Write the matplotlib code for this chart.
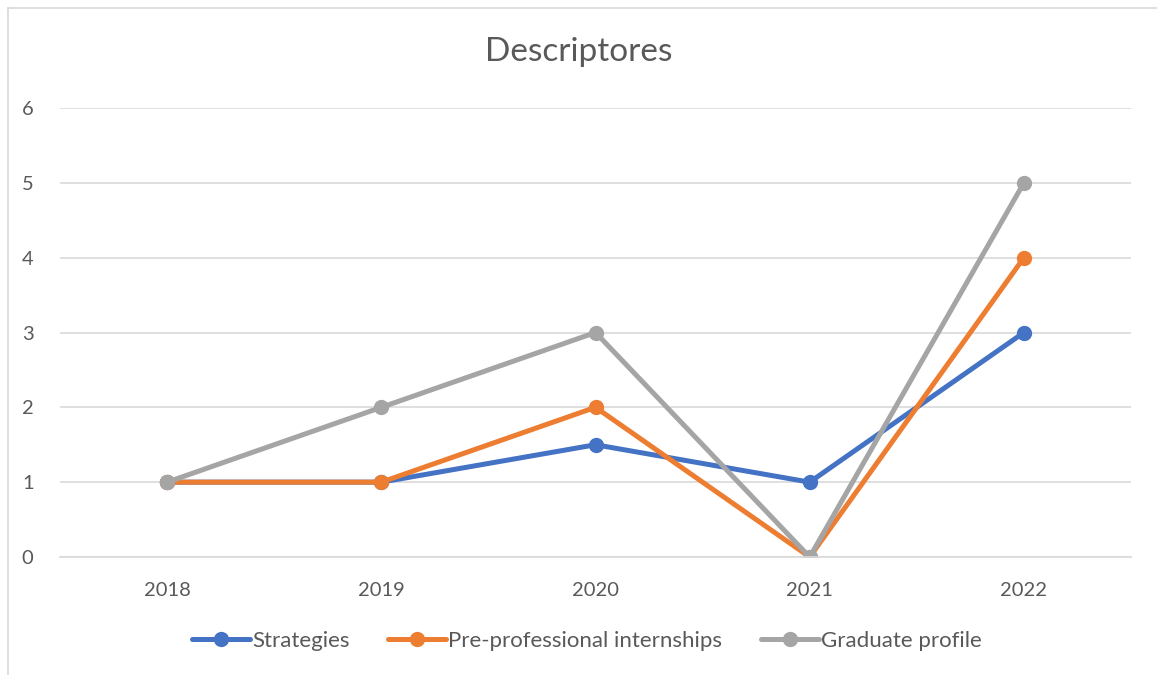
import matplotlib
matplotlib.use("Agg")
import matplotlib.pyplot as plt
from matplotlib.lines import Line2D

years = ["2018", "2019", "2020", "2021", "2022"]
strategies = [1, 1, 1.5, 1, 3]
internships = [1, 1, 2, 0, 4]
graduate = [1, 2, 3, 0, 5]
series_names = ["Strategies", "Pre-professional internships", "Graduate profile"]
colors = ["#4472C4", "#ED7D31", "#A5A5A5"]

plt.rcParams['font.family'] = ['Lato', 'DejaVu Sans']
txt = "#595959"

fig = plt.figure(figsize=(11.57, 6.75), dpi=100)
ax = fig.add_axes([60/1157, 1-557/675, (1131-60)/1157, (557-108)/675])

x = list(range(len(years)))
for vals, name, c in zip([strategies, internships, graduate], series_names, colors):
    ax.plot(x, vals, color=c, lw=3.6, marker='o', ms=10, label=name,
            solid_capstyle='round', solid_joinstyle='round')

ax.set_xlim(-0.5, len(years) - 0.5)
ax.set_ylim(0, 6)
ax.set_yticks(range(0, 7))
ax.set_xticks(x)
ax.set_xticklabels(years)
ax.grid(axis='y', color='#D9D9D9', lw=1.2)
ax.set_axisbelow(True)
for s in ['top', 'right', 'left']:
    ax.spines[s].set_visible(False)
ax.spines['bottom'].set_color('#D9D9D9')
ax.spines['bottom'].set_linewidth(1.2)
ax.tick_params(axis='both', length=0, labelsize=14.5, colors=txt)
ax.tick_params(axis='x', pad=18)
ax.tick_params(axis='y', pad=19)

fig.text(0.5, 1-52/675, "Descriptores", ha='center', va='center', fontsize=24, color=txt)

leg = fig.legend(loc='center', bbox_to_anchor=(587/1157, 1-641/675), ncol=3, frameon=False,
                 fontsize=16, handlelength=2.6, columnspacing=1.75, handletextpad=0.1)
for t in leg.get_texts():
    t.set_color(txt)

# outer border (left and top)
fig.add_artist(Line2D([8/1157, 8/1157], [0, 1-8/675], transform=fig.transFigure, color='#D9D9D9', lw=1.2))
fig.add_artist(Line2D([8/1157, 1], [1-8/675, 1-8/675], transform=fig.transFigure, color='#D9D9D9', lw=1.2))

fig.savefig("out.png", dpi=100, facecolor='white')
